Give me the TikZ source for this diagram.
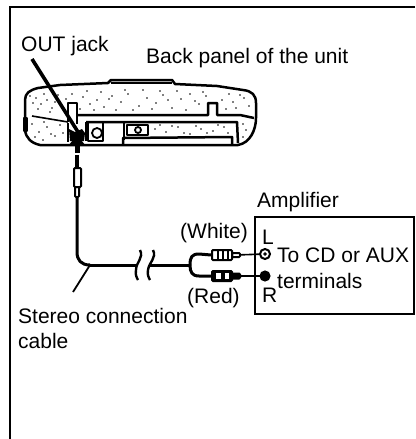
\documentclass[tikz,border=0pt]{standalone}
\usepackage{fontspec}
\setmainfont{Liberation Sans}
\usetikzlibrary{arrows.meta}
\tikzset{
    label/.style={anchor=base west, inner sep=0pt, font=\fontsize{21}{25}\selectfont},
    frame/.style={line width=1.5pt},
    body/.style={line width=2.5pt, line join=round},
    cable/.style={line width=3pt, line join=round},
    wire/.style={line width=1.6pt},
    plugbox/.style={draw, line width=2pt, inner sep=0pt, rounded corners=1pt},
    terminal/.style={circle, draw, line width=2pt, inner sep=0pt},
}
\begin{document}
\begin{tikzpicture}[x=1pt, y=-1pt]
\useasboundingbox (0,0) rectangle (415,439);
\draw[frame] (415,7) -- (10,7) -- (10,439);
\node[label] (outlabel) at (21,51) {OUT jack};
\node[label] (backlabel) at (146,63) {Back panel of the unit};
\node[label] (amplabel) at (257,207) {Amplifier};
\node[label] (whitelabel) at (180,238) {(White)};
\node[label] (redlabel) at (187,303) {(Red)};
\node[label] (stereolabel) at (18,323) {Stereo connection};
\node[label] (cablelabel) at (18,348) {cable};
\node[label] (llabel) at (262,244) {L};
\node[label] (rlabel) at (262,302) {R};
\node[label] (cdlabel) at (277,262) {To CD or AUX};
\node[label] (termlabel) at (277,288) {terminals};
% unit
\draw[body] (25,112) -- (25,100) .. controls (25,93) and (30,90) .. (38,88) -- (60,85) -- (108,83)
    -- (111,80) -- (172,80) -- (175,84) -- (217,86) -- (243,90)
    .. controls (252,91) and (256,95) .. (256,103) -- (256,118)
    .. controls (256,130) and (250,143) .. (238,145) -- (123,145) -- (40,145)
    .. controls (31,143) and (26,138) .. (25,130) -- cycle;
\draw[line width=1.2pt] (111,83) -- (172,83);
\draw[body] (24,118) rectangle (27,131);
\draw[line width=1.6pt] (32,116) -- (68,122);
\draw[body] (77,115) -- (208,115) -- (208,103) -- (217,103) -- (217,115) -- (240,115) -- (254,118);
\draw[body] (68,122) -- (68,103) -- (77,103) -- (77,124);
\draw[body] (86,122) -- (237,122) -- (238,143);
\draw[body] (123,145) -- (123,138) -- (232,137) -- (232,145);
\draw[body] (68,123) -- (68,142);
\draw[body] (86,122) -- (86,141);
\draw[body] (88,122) rectangle (103,141);
\draw[body] (103,122) -- (124,122) -- (124,140);
\draw[line width=1.8pt] (97,133) circle (5pt);
\draw[body] (127,125) rectangle (148,135);
\draw[line width=1.8pt] (138,130) circle (3pt);
\foreach \x/\y in {30/96,33/103,36/98,38/109,41/104,44/94,47/100,50/112,52/108,55/102,58/95,62/106,
    66/99,72/94,80/109,83/97,87/91,90/104,94/110,97/100,101/92,104/107,109/99,112/96,116/110,
    121/102,125/90,128/94,133/110,139/106,143/90,147/98,152/109,156/103,160/91,163/95,168/100,
    172/108,177/91,181/99,186/110,190/94,195/101,199/104,203/92,206/96,222/100,226/109,229/94,
    233/102,236/108,240/95,244/98,249/106,32/124,35/137,39/132,44/122,47/127,51/134,55/136,60/125,
    63/133,43/140,155/129,160/125,166/132,172/126,178/127,184/133,190/134,196/126,201/129,207/133,
    213/131,218/125,224/127,228/133,243/124,246/130,243/137}
    \fill (\x,\y) circle (0.8pt);
% jack and arrows
\fill (69,129) -- (75,132) -- (82,129) -- (85,133) -- (84,141) -- (70,141) -- cycle;
\coordinate (outend) at (78,132);
\coordinate (outstart) at (32,59);
\draw[line width=3.6pt] (outstart) -- (outend);
\coordinate (arrowend) at (77,135);
% stereo plug
\node[fill=black, minimum width=3.5pt, minimum height=13pt, inner sep=0pt] (plugtip) at (77,161) {};
\node[plugbox, fill=white, minimum width=7pt, minimum height=19pt] (plugbody) at (77.5,177.5) {};
\node[plugbox, fill=white, minimum width=4pt, minimum height=10pt] (plugneck) at (77,192) {};
\draw[-{Triangle[width=14pt,length=9pt]}, line width=5pt] (77,153) -- (arrowend);
\coordinate (bend) at (90,265);
\coordinate (branch) at (190,265);
\draw[cable] (plugneck.south) -- (77,252) .. controls (77,260) and (81,265) .. (bend);
\draw[cable] (bend) -- (137,265);
\draw[cable] (150,265) -- (branch);
\coordinate (pointerend) at (73,292);
\draw[line width=1.8pt] (bend) -- (pointerend);
% cable break
\draw[line width=2.4pt] (140,250) .. controls (144,258) and (136,262) .. (136,270) .. controls (135,275) and (137,278) .. (138,280);
\draw[line width=2.4pt] (153,250) .. controls (157,258) and (149,262) .. (148,270) .. controls (147,275) and (149,278) .. (150,280);
% rca plugs
\node[plugbox, minimum width=20pt, minimum height=10pt] (plugwhite) at (222,255) {};
\node[plugbox, fill=black, minimum width=20pt, minimum height=10pt] (plugred) at (222,276) {};
\foreach \x in {218,223,228}
    \draw[line width=1.2pt] (\x,250) -- (\x,260);
\fill[white] (216,273) rectangle (221,279);
\fill[white] (225,273) rectangle (229,279);
\node[plugbox, minimum width=8pt, minimum height=4pt] (tipwhite) at (236,255) {};
\node[plugbox, fill=black, minimum width=8pt, minimum height=5pt] (tipred) at (236,276) {};
\draw[cable] (branch) .. controls (190,257) and (192,254) .. (199,254) -- (plugwhite.west);
\draw[cable] (branch) .. controls (190,272) and (192,276) .. (199,276) -- (plugred.west);
\node[terminal, minimum size=10pt] (termL) at (265,254) {};
\node[terminal, fill=black, minimum size=9pt] (termR) at (265,276) {};
\filldraw (termL.center) circle (1.5pt);
\draw[wire] (tipwhite) -- (termL);
\draw[wire] (tipred) -- (termR);
% amplifier
\draw[line width=1.7pt] (255,217) rectangle (414,314);
\end{tikzpicture}
\end{document}
